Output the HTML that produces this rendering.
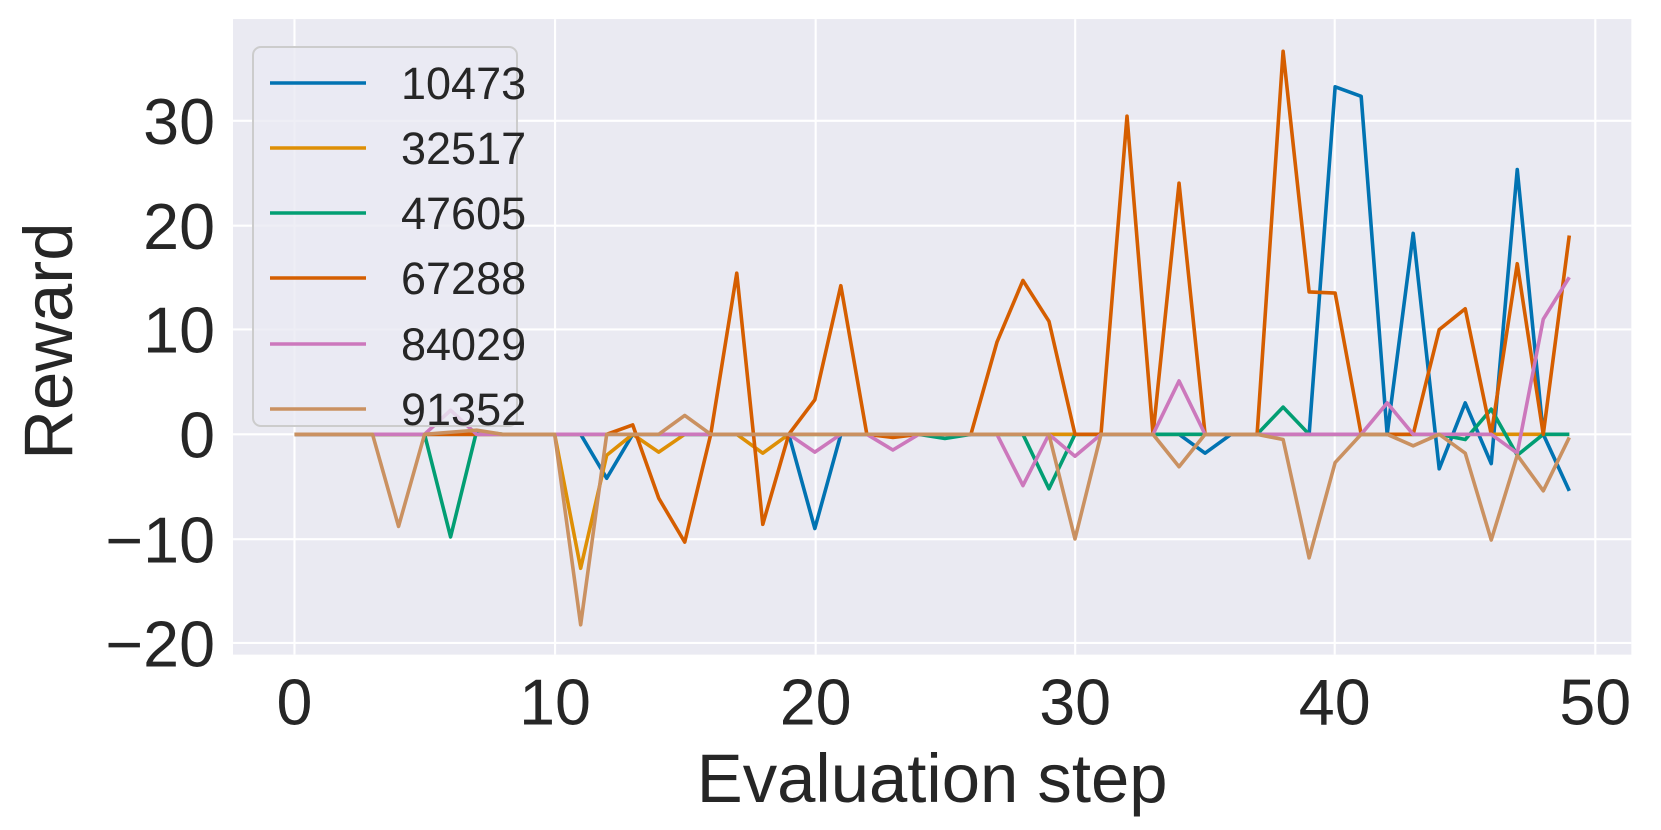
<!DOCTYPE html>
<html><head><meta charset="utf-8"><style>
html,body{margin:0;padding:0;background:#fff;}
svg{display:block;font-family:"Liberation Sans",Arial,sans-serif;}
</style></head><body>
<svg width="1661" height="830" viewBox="0 0 1661 830">
<rect x="0" y="0" width="1661" height="830" fill="#fff"/>
<g transform="scale(1.0593)">
<rect x="220" y="18" width="1320" height="600" fill="#eaeaf2"/>
<g stroke="#fff" stroke-width="2">
<line x1="278" y1="18" x2="278" y2="618"/><line x1="524" y1="18" x2="524" y2="618"/><line x1="770" y1="18" x2="770" y2="618"/><line x1="1015" y1="18" x2="1015" y2="618"/><line x1="1260" y1="18" x2="1260" y2="618"/><line x1="1506" y1="18" x2="1506" y2="618"/>
<line x1="220" y1="114" x2="1540" y2="114"/><line x1="220" y1="213" x2="1540" y2="213"/><line x1="220" y1="311" x2="1540" y2="311"/><line x1="220" y1="410" x2="1540" y2="410"/><line x1="220" y1="509" x2="1540" y2="509"/><line x1="220" y1="607" x2="1540" y2="607"/>
</g>
<g transform="translate(278,410) scale(24.56,-9.88)" fill="none" stroke-linejoin="round">
<polyline vector-effect="non-scaling-stroke" stroke="#0173b2" stroke-width="3.6" points="0,0 11,0 12,-4.2 13,0 19,0 20,-9 21,0 34,0 35,-1.8 36,0 39,0 40,33.2 41,32.3 42,0 43,19.2 44,-3.3 45,3 46,-2.8 47,25.3 48,0 49,-5.4"/>
<polyline vector-effect="non-scaling-stroke" stroke="#de8f05" stroke-width="3.6" points="0,0 10,0 11,-12.8 12,-2 13,0 14,-1.7 15,0 17,0 18,-1.8 19,0 49,0"/>
<polyline vector-effect="non-scaling-stroke" stroke="#029e73" stroke-width="3.6" points="0,0 5,0 6,-9.8 7,0.3 8,0 24,0 25,-0.4 26,0 28,0 29,-5.2 30,0 37,0 38,2.6 39,0 44,0 45,-0.5 46,2.4 47,-2 48,0 49,0"/>
<polyline vector-effect="non-scaling-stroke" stroke="#d55e00" stroke-width="3.6" points="0,0 12,0 13,0.9 14,-6.1 15,-10.3 16,0 17,15.4 18,-8.6 19,0 20,3.3 21,14.2 22,0 23,-0.3 24,0 26,0 27,8.8 28,14.7 29,10.8 30,0 31,0 32,30.4 33,0 34,24 35,0 37,0 38,36.6 39,13.6 40,13.5 41,0 43,0 44,10 45,12 46,0 47,16.3 48,0 49,19"/>
<polyline vector-effect="non-scaling-stroke" stroke="#cc78bc" stroke-width="3.6" points="0,0 5,0 6,2.3 7,0 19,0 20,-1.7 21,0 22,0 23,-1.5 24,0 27,0 28,-4.9 29,0 30,-2.1 31,0 33,0 34,5.1 35,0 41,0 42,3 43,0 46,0 47,-1.8 48,11 49,15"/>
<polyline vector-effect="non-scaling-stroke" stroke="#ca9161" stroke-width="3.6" points="0,0 3,0 4,-8.8 5,0 7,0.4 8,0 10,0 11,-18.2 12,0 14,0 15,1.8 16,0 29,0 30,-10 31,0 33,0 34,-3.1 35,0 37,0 38,-0.5 39,-11.8 40,-2.7 41,0 42,0 43,-1.1 44,0 45,-1.8 46,-10.1 47,-2 48,-5.4 49,-0.3"/>
</g>
<g fill="#262626" font-size="61" text-anchor="end">
<text x="203" y="136">30</text><text x="203" y="235">20</text><text x="203" y="333">10</text><text x="203" y="432">0</text><text x="203" y="531">−10</text><text x="203" y="629">−20</text>
</g>
<g fill="#262626" font-size="61" text-anchor="middle">
<text x="278" y="684">0</text><text x="524" y="684">10</text><text x="770" y="684">20</text><text x="1015" y="684">30</text><text x="1260" y="684">40</text><text x="1506" y="684">50</text>
<text x="880" y="757" font-size="65">Evaluation step</text>
<text transform="translate(68,322) rotate(-90)" font-size="65">Reward</text>
</g>
</g>
<rect x="253" y="47" width="264" height="379" rx="8" fill="#eaeaf2" fill-opacity="0.8" stroke="#cccccc" stroke-width="2"/>
<g stroke-width="3.6">
<line x1="270" y1="83" x2="366" y2="83" stroke="#0173b2"/>
<line x1="270" y1="148" x2="366" y2="148" stroke="#de8f05"/>
<line x1="270" y1="213" x2="366" y2="213" stroke="#029e73"/>
<line x1="270" y1="278" x2="366" y2="278" stroke="#d55e00"/>
<line x1="270" y1="344" x2="366" y2="344" stroke="#cc78bc"/>
<line x1="270" y1="409" x2="366" y2="409" stroke="#ca9161"/>
</g>
<g fill="#262626" font-size="45">
<text x="401" y="99">10473</text><text x="401" y="164">32517</text><text x="401" y="229">47605</text><text x="401" y="294">67288</text><text x="401" y="360">84029</text><text x="401" y="425">91352</text>
</g>
</svg>
</body></html>
